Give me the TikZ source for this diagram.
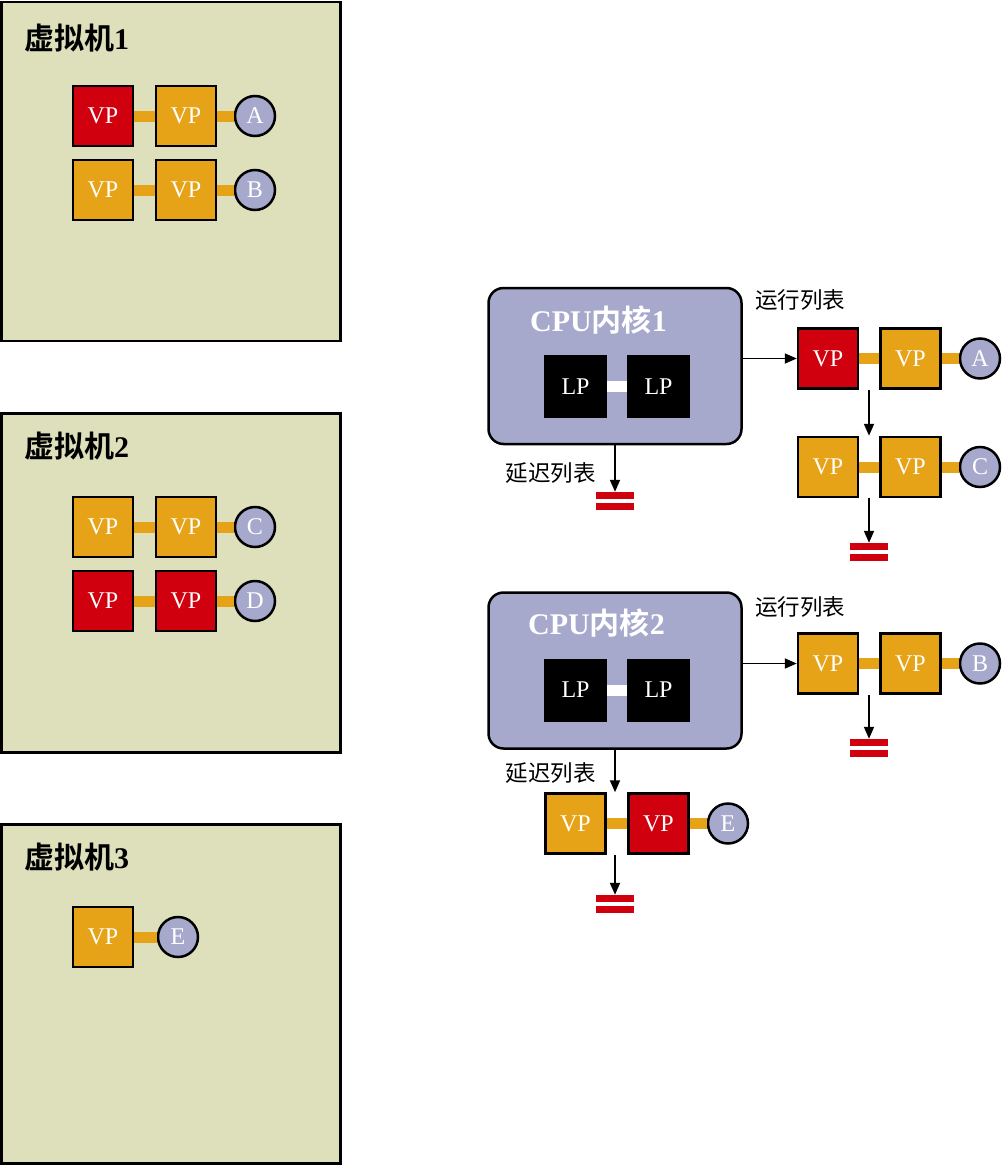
\documentclass[tikz,border=0pt]{standalone}
\usepackage{fontspec}
\setmainfont{Liberation Serif}
\newfontfamily\cjk[BoldFont={Noto Sans CJK SC Bold}]{Noto Sans CJK SC}
\usetikzlibrary{arrows.meta,calc}
\definecolor{vmbg}{RGB}{221,224,187}
\definecolor{vporange}{RGB}{230,163,23}
\definecolor{vpred}{RGB}{208,0,15}
\definecolor{corebg}{RGB}{166,169,204}
\tikzset{
  vm/.style={draw, line width=2.5pt, fill=vmbg, minimum width=339pt,
    minimum height=339pt, inner sep=0pt},
  vmtitle/.style={anchor=west, inner sep=0pt,
    font=\fontsize{30pt}{32pt}\selectfont\bfseries},
  coretitle/.style={vmtitle, text=white},
  vp/.style={draw, line width=2.5pt, minimum size=60pt, inner sep=0pt,
    text=white, font=\fontsize{24pt}{26pt}\selectfont},
  vpo/.style={vp, fill=vporange},
  vpr/.style={vp, fill=vpred},
  lp/.style={fill=black, minimum size=63pt, inner sep=0pt, text=white,
    font=\fontsize{24pt}{26pt}\selectfont},
  vpc/.style={circle, draw, line width=2.5pt, fill=corebg, minimum size=40pt,
    inner sep=0pt, text=white, font=\fontsize{24pt}{26pt}\selectfont},
  core/.style={draw, line width=2.5pt, fill=corebg, rounded corners=15pt,
    minimum width=253pt, minimum height=156pt},
  listlabel/.style={inner sep=0pt, font=\fontsize{22.5pt}{24pt}\selectfont\cjk},
  link/.style={line width=11pt, vporange},
  lplink/.style={line width=11pt, white},
  flow/.style={line width=1.8pt, -{Triangle[length=12pt,width=10pt]}},
  listend/.style={minimum width=38pt, minimum height=18pt, inner sep=0pt,
    path picture={
      \fill[vpred] (path picture bounding box.north west) rectangle
        ([yshift=-7pt]path picture bounding box.north east);
      \fill[vpred] ([yshift=7pt]path picture bounding box.south west) rectangle
        (path picture bounding box.south east);}}
}
\begin{document}
\begin{tikzpicture}[x=1pt, y=-1pt]
    \useasboundingbox (0,0) rectangle (1004,1167);
    % virtual machines
    \node[vm] (vmone) at (171,171.5) {};
    \node[vm] (vmtwo) at (171,583) {};
    \node[vm] (vmthree) at (171,994) {};
    \node[vmtitle] (vmonetitle) at (24,38) {{\cjk 虚拟机}1};
    \node[vmtitle] (vmtwotitle) at (24,446) {{\cjk 虚拟机}2};
    \node[vmtitle] (vmthreetitle) at (24,857) {{\cjk 虚拟机}3};
    % processors of machine 1
    \node[vpr] (vpaa) at (103,116) {VP};
    \node[vpo] (vpab) at (186,116) {VP};
    \node[vpc] (tha) at (255,116) {A};
    \node[vpo] (vpba) at (103,190) {VP};
    \node[vpo] (vpbb) at (186,190) {VP};
    \node[vpc] (thb) at (255,190) {B};
    % processors of machine 2
    \node[vpo] (vpca) at (103,527) {VP};
    \node[vpo] (vpcb) at (186,527) {VP};
    \node[vpc] (thc) at (255,527) {C};
    \node[vpr] (vpda) at (103,601) {VP};
    \node[vpr] (vpdb) at (186,601) {VP};
    \node[vpc] (thd) at (255,601) {D};
    % processor of machine 3
    \node[vpo] (vpea) at (103,937) {VP};
    \node[vpc] (the) at (178,937) {E};
    \draw[link] (vpaa) -- (vpab);
    \draw[link] (vpab) -- (tha);
    \draw[link] (vpba) -- (vpbb);
    \draw[link] (vpbb) -- (thb);
    \draw[link] (vpca) -- (vpcb);
    \draw[link] (vpcb) -- (thc);
    \draw[link] (vpda) -- (vpdb);
    \draw[link] (vpdb) -- (thd);
    \draw[link] (vpea) -- (the);
    % core 1
    \node[core] (coreone) at (615,366) {};
    \node[coretitle] (coreonetitle) at (530,320) {CPU{\cjk 内核}1};
    \node[lp] (lpaa) at (575.5,386.5) {LP};
    \node[lp] (lpab) at (658.5,386.5) {LP};
    \draw[lplink] (lpaa) -- (lpab);
    \node[listlabel, anchor=west] (runone) at (755,300) {运行列表};
    \node[vpr] (rqaa) at (828,358.5) {VP};
    \node[vpo] (rqab) at (910.5,358.5) {VP};
    \node[vpc] (rqat) at (980,358.5) {A};
    \node[vpo] (rqba) at (828,467) {VP};
    \node[vpo] (rqbb) at (910.5,467) {VP};
    \node[vpc] (rqbt) at (980,467) {C};
    \node[listend] (rqend) at (869,552) {};
    \draw[link] (rqaa) -- (rqab);
    \draw[link] (rqab) -- (rqat);
    \draw[link] (rqba) -- (rqbb);
    \draw[link] (rqbb) -- (rqbt);
    \draw[flow] (coreone.east |- rqaa) -- (rqaa.west);% into the run list
    \draw[flow] (rqend.north |- rqaa.south) -- (rqend.north |- rqba.north);
    \draw[flow] (rqend.north |- rqba.south) -- (rqend.north);
    \node[listlabel, anchor=east] (delayone) at (596,473) {延迟列表};
    \node[listend] (dqend) at (615,501) {};
    \draw[flow] (coreone.south) -- (dqend.north);% empty delay list
    % core 2
    \node[core] (coretwo) at (615,670.5) {};
    \node[coretitle] (coretwotitle) at (528,623) {CPU{\cjk 内核}2};
    \node[lp] (lpba) at (575.5,690) {LP};
    \node[lp] (lpbb) at (658.5,690) {LP};
    \draw[lplink] (lpba) -- (lpbb);
    \node[listlabel, anchor=west] (runtwo) at (755,607) {运行列表};
    \node[vpo] (rqca) at (828,663.5) {VP};
    \node[vpo] (rqcb) at (910.5,663.5) {VP};
    \node[vpc] (rqct) at (980,663.5) {B};
    \node[listend] (rqcend) at (869,748) {};
    \draw[link] (rqca) -- (rqcb);
    \draw[link] (rqcb) -- (rqct);
    \draw[flow] (coretwo.east |- rqca) -- (rqca.west);% into the run list
    \draw[flow] (rqcend.north |- rqca.south) -- (rqcend.north);
    \node[listlabel, anchor=east] (delaytwo) at (596,773) {延迟列表};
    \node[vpo] (dqaa) at (575.5,823.5) {VP};
    \node[vpr] (dqab) at (658.5,823.5) {VP};
    \node[vpc] (dqat) at (728,823.5) {E};
    \node[listend] (dqaend) at (615,904) {};
    \draw[link] (dqaa) -- (dqab);
    \draw[link] (dqab) -- (dqat);
    \draw[flow] (coretwo.south) -- (coretwo.south |- dqaa.north);
    \draw[flow] (dqaend.north |- dqaa.south) -- (dqaend.north);
\end{tikzpicture}
\end{document}
